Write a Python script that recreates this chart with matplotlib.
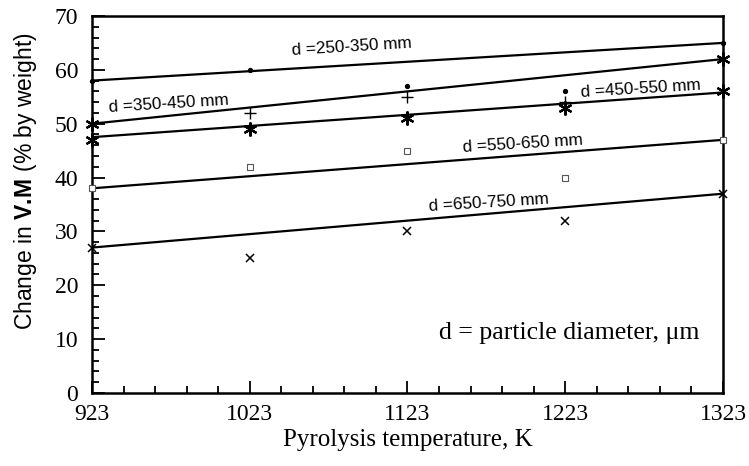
import matplotlib
matplotlib.use("Agg")
import matplotlib.pyplot as plt
from matplotlib.ticker import FixedLocator

plt.rcParams["mathtext.fontset"] = "custom"
plt.rcParams["mathtext.rm"] = "Liberation Sans"
plt.rcParams["mathtext.bf"] = "Liberation Sans:bold"

# Pyrolysis temperatures (K)
temps = [923, 1023, 1123, 1223, 1323]

# Measured change in volatile matter (% by weight) per size fraction
vm_250_350 = [58, 60, 57, 56, 65]
vm_350_450 = [50, 52, 55, 54, 62]
vm_450_550 = [47, 49, 51, 53, 56]
vm_550_650 = [38, 42, 45, 40, 47]
vm_650_750 = [27, 25, 30, 32, 37]

# Straight trend lines (value at 923 K and at 1323 K)
fit_ends = [923, 1323]
fit_250_350 = [58, 65]
fit_350_450 = [50, 62]
fit_450_550 = [47.5, 55.8]
fit_550_650 = [38, 47]
fit_650_750 = [27, 37]

labels = ["d =250-350 mm", "d =350-450 mm", "d =450-550 mm",
          "d =550-650 mm", "d =650-750 mm"]
# label anchor (temperature, % by weight) of each label's lower-left corner
label_pos = [(1050, 62.2), (934, 51.6), (1233, 54.4), (1158, 44.2), (1137, 33.2)]

x_major = [923, 1023, 1123, 1223, 1323]

fig = plt.figure(figsize=(7.49, 4.66), dpi=100)
ax = fig.add_axes([0.1228, 0.1567, 0.8425, 0.809])

serif = ["Liberation Serif", "DejaVu Serif"]
sans = ["Liberation Sans", "DejaVu Sans"]

# trend lines
for fit in [fit_250_350, fit_350_450, fit_450_550, fit_550_650, fit_650_750]:
    ax.plot(fit_ends, fit, color="black", lw=1.6, zorder=2)

star = (6, 2, 0)
# data markers
ax.plot(temps, vm_250_350, ls="none", marker="o", ms=2.8, color="black", clip_on=False, zorder=3)
ax.plot(temps[1:4], vm_350_450[1:4], ls="none", marker="+", ms=9, mew=1.0, color="black",
        clip_on=False, zorder=3)
ax.plot([temps[0], temps[4]], [vm_350_450[0], vm_350_450[4]], ls="none", marker=star, ms=10,
        mew=1.6, color="black", clip_on=False, zorder=3)
ax.plot(temps, vm_450_550, ls="none", marker=star, ms=10, mew=1.6, color="black",
        clip_on=False, zorder=3)
ax.plot(temps, vm_550_650, ls="none", marker="s", ms=5, mew=0.8, mfc="white", mec="#555555",
        clip_on=False, zorder=3)
ax.plot(temps, vm_650_750, ls="none", marker="x", ms=6, mew=1.1, color="black",
        clip_on=False, zorder=3)

# series labels along the lines
for (x, y), text in zip(label_pos, labels):
    ax.text(x, y, text, fontsize=12.3, family=sans, rotation=3.5, ha="left", va="bottom",
            rotation_mode="anchor", zorder=4)

ax.text(1225.4, 11.1, "d = particle diameter, \u03bcm", fontsize=18.5, family=serif,
        ha="center", va="center")

ax.set_xlim(923, 1323)
ax.set_ylim(0, 70)
ax.xaxis.set_major_locator(FixedLocator(x_major))
ax.xaxis.set_minor_locator(FixedLocator(list(range(923, 1324, 20))))
ax.yaxis.set_major_locator(FixedLocator(list(range(0, 71, 10))))
ax.yaxis.set_minor_locator(FixedLocator(list(range(0, 71, 2))))
ax.set_xticklabels([str(v) for v in x_major])
ax.tick_params(which="both", direction="in", top=False, right=False, width=1.3)
ax.tick_params(which="major", length=9, labelsize=17)
ax.tick_params(axis="y", which="major", pad=10)
ax.tick_params(axis="x", which="major", pad=8)
ax.tick_params(which="minor", length=5)
for lab in ax.get_xticklabels() + ax.get_yticklabels():
    lab.set_family(serif)
for sp in ax.spines.values():
    sp.set_linewidth(1.8)

ax.set_xlabel("Pyrolysis temperature, K", fontsize=18, family=serif, labelpad=3)
ax.set_ylabel(r"Change in $\mathbf{V.\!M}$ (% by weight)", fontsize=16.5, family=sans)
ax.yaxis.set_label_coords(-0.084, 0.562)

fig.savefig("out.png", dpi=100)
